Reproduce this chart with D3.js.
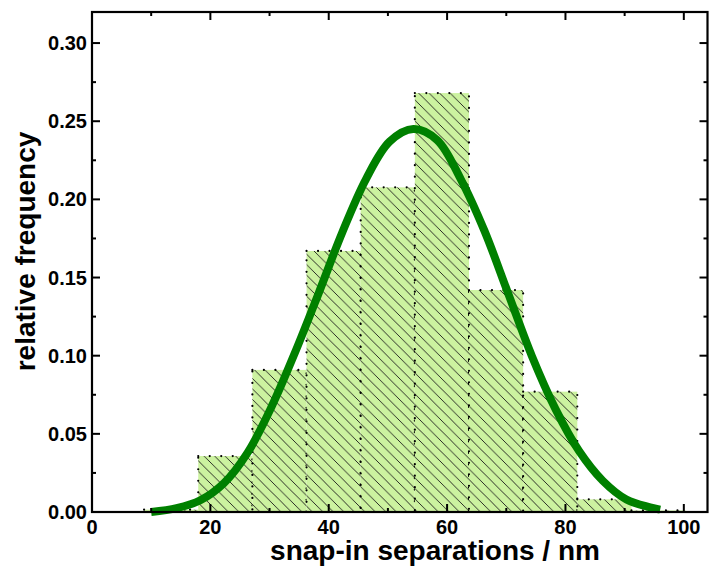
<!DOCTYPE html>
<html>
<head>
<meta charset="utf-8">
<script src="https://cdn.jsdelivr.net/npm/d3@7"></script>
<style>
  body { margin: 0; background: #fff; }
  svg { display: block; font-family: 'Liberation Sans', Arial, sans-serif; font-weight: bold; }
</style>
</head>
<body>
<svg width="709" height="567"></svg>
<script>
// histogram bins (nm) and relative frequencies
var binEdges = [8.8, 17.95, 27.1, 36.25, 45.4, 54.55, 63.7, 72.85, 82.0, 91.15, 100.3]
var freqs = [0.0015, 0.0358, 0.0909, 0.167, 0.2077, 0.268, 0.142, 0.077, 0.0081, 0.001]

// fitted curve
var fitX = [10, 14.3, 18.3, 22.3, 26.3, 30.3, 34.3, 38.3, 42.3, 46.3, 50.3, 54.3, 58.3, 62.3, 66.3, 70.3, 74.3, 78.3, 82.3, 86.3, 90.3, 94.3, 96]
var fitY = [0.000, 0.0025, 0.0075, 0.0185, 0.038, 0.067, 0.102, 0.140, 0.179, 0.213, 0.237, 0.245, 0.238, 0.213, 0.180, 0.140, 0.100, 0.066, 0.039, 0.020, 0.008, 0.003, 0.0015]

var xTicks = [0, 20, 40, 60, 80, 100]
var yTicks = [0, 0.05, 0.10, 0.15, 0.20, 0.25, 0.30]

var svg = d3.select('svg')

var x = d3.scaleLinear().domain([0, 104]).range([92, 707.5])
var y = d3.scaleLinear().domain([0, 0.32]).range([512, 11.8])

var defs = svg.append('defs')
var pat = defs.append('pattern')
  .attr('id', 'hatch')
  .attr('patternUnits', 'userSpaceOnUse')
  .attr('width', 10.5)
  .attr('height', 10.5)
pat.append('rect').attr('width', 10.5).attr('height', 10.5).attr('fill', '#ccf2a0')
pat.append('path')
  .attr('d', 'M0,0 L10.5,10.5 M-5.25,5.25 L5.25,15.75 M5.25,-5.25 L15.75,5.25')
  .attr('stroke', '#1a1a1a')
  .attr('stroke-width', 0.9)

var bins = freqs.map((f, i) => ({ x0: binEdges[i], x1: binEdges[i + 1], f: f }))

svg.append('g').selectAll('rect')
  .data(bins)
  .enter()
  .append('rect')
  .attr('x', (d) => x(d.x0))
  .attr('width', (d) => x(d.x1) - x(d.x0))
  .attr('y', (d) => y(d.f))
  .attr('height', (d) => y(0) - y(d.f))
  .attr('fill', 'url(#hatch)')
  .attr('stroke', '#000')
  .attr('stroke-width', 2.2)
  .attr('stroke-linecap', 'round')
  .attr('stroke-dasharray', '0,11.5')

var line = d3.line()
  .x((d) => x(d[0]))
  .y((d) => y(d[1]))
  .curve(d3.curveCatmullRom)

svg.append('path')
  .datum(fitX.map((v, i) => [v, fitY[i]]))
  .attr('d', line)
  .attr('fill', 'none')
  .attr('stroke', '#008000')
  .attr('stroke-width', 8)

// frame with inward ticks
var xMinor = d3.range(10, 104, 20)
var yMinor = d3.range(0.025, 0.32, 0.05)

function tickSet (g, scale, vals, len, dir) {
  g.selectAll('line.t' + len)
    .data(vals)
    .enter()
    .append('line')
    .attr('stroke', '#000')
    .attr('stroke-width', 2)
    .each(function (d) {
      var s = d3.select(this)
      var p = scale(d)
      if (dir === 'bottom') s.attr('x1', p).attr('x2', p).attr('y1', 512).attr('y2', 512 - len)
      if (dir === 'top') s.attr('x1', p).attr('x2', p).attr('y1', 12).attr('y2', 12 + len)
      if (dir === 'left') s.attr('y1', p).attr('y2', p).attr('x1', 92).attr('x2', 92 + len)
      if (dir === 'right') s.attr('y1', p).attr('y2', p).attr('x1', 707.5).attr('x2', 707.5 - len)
    })
}

var frame = svg.append('g')
tickSet(frame, x, xTicks, 8, 'bottom')
tickSet(frame, x, xMinor, 4, 'bottom')
tickSet(frame, x, xTicks, 8, 'top')
tickSet(frame, x, xMinor, 4, 'top')
tickSet(frame, y, yTicks, 8, 'left')
tickSet(frame, y, yMinor, 4, 'left')
tickSet(frame, y, yTicks, 8, 'right')
tickSet(frame, y, yMinor, 4, 'right')

frame.append('rect')
  .attr('x', 92)
  .attr('y', 12)
  .attr('width', 707.5 - 92)
  .attr('height', 500)
  .attr('fill', 'none')
  .attr('stroke', '#000')
  .attr('stroke-width', 2.2)

svg.append('g').selectAll('text')
  .data(xTicks)
  .enter()
  .append('text')
  .attr('x', (d) => x(d))
  .attr('y', 534)
  .attr('text-anchor', 'middle')
  .attr('font-size', 20)
  .text((d) => d)

svg.append('g').selectAll('text')
  .data(yTicks)
  .enter()
  .append('text')
  .attr('x', 87)
  .attr('y', (d) => y(d) + 7)
  .attr('text-anchor', 'end')
  .attr('font-size', 20)
  .text((d) => d3.format('.2f')(d))

svg.append('text')
  .attr('x', 435)
  .attr('y', 560)
  .attr('text-anchor', 'middle')
  .attr('font-size', 28)
  .text('snap-in separations / nm')

svg.append('text')
  .attr('transform', 'translate(35,251.5) rotate(-90)')
  .attr('text-anchor', 'middle')
  .attr('font-size', 28)
  .text('relative frequency')
</script>
</body>
</html>
